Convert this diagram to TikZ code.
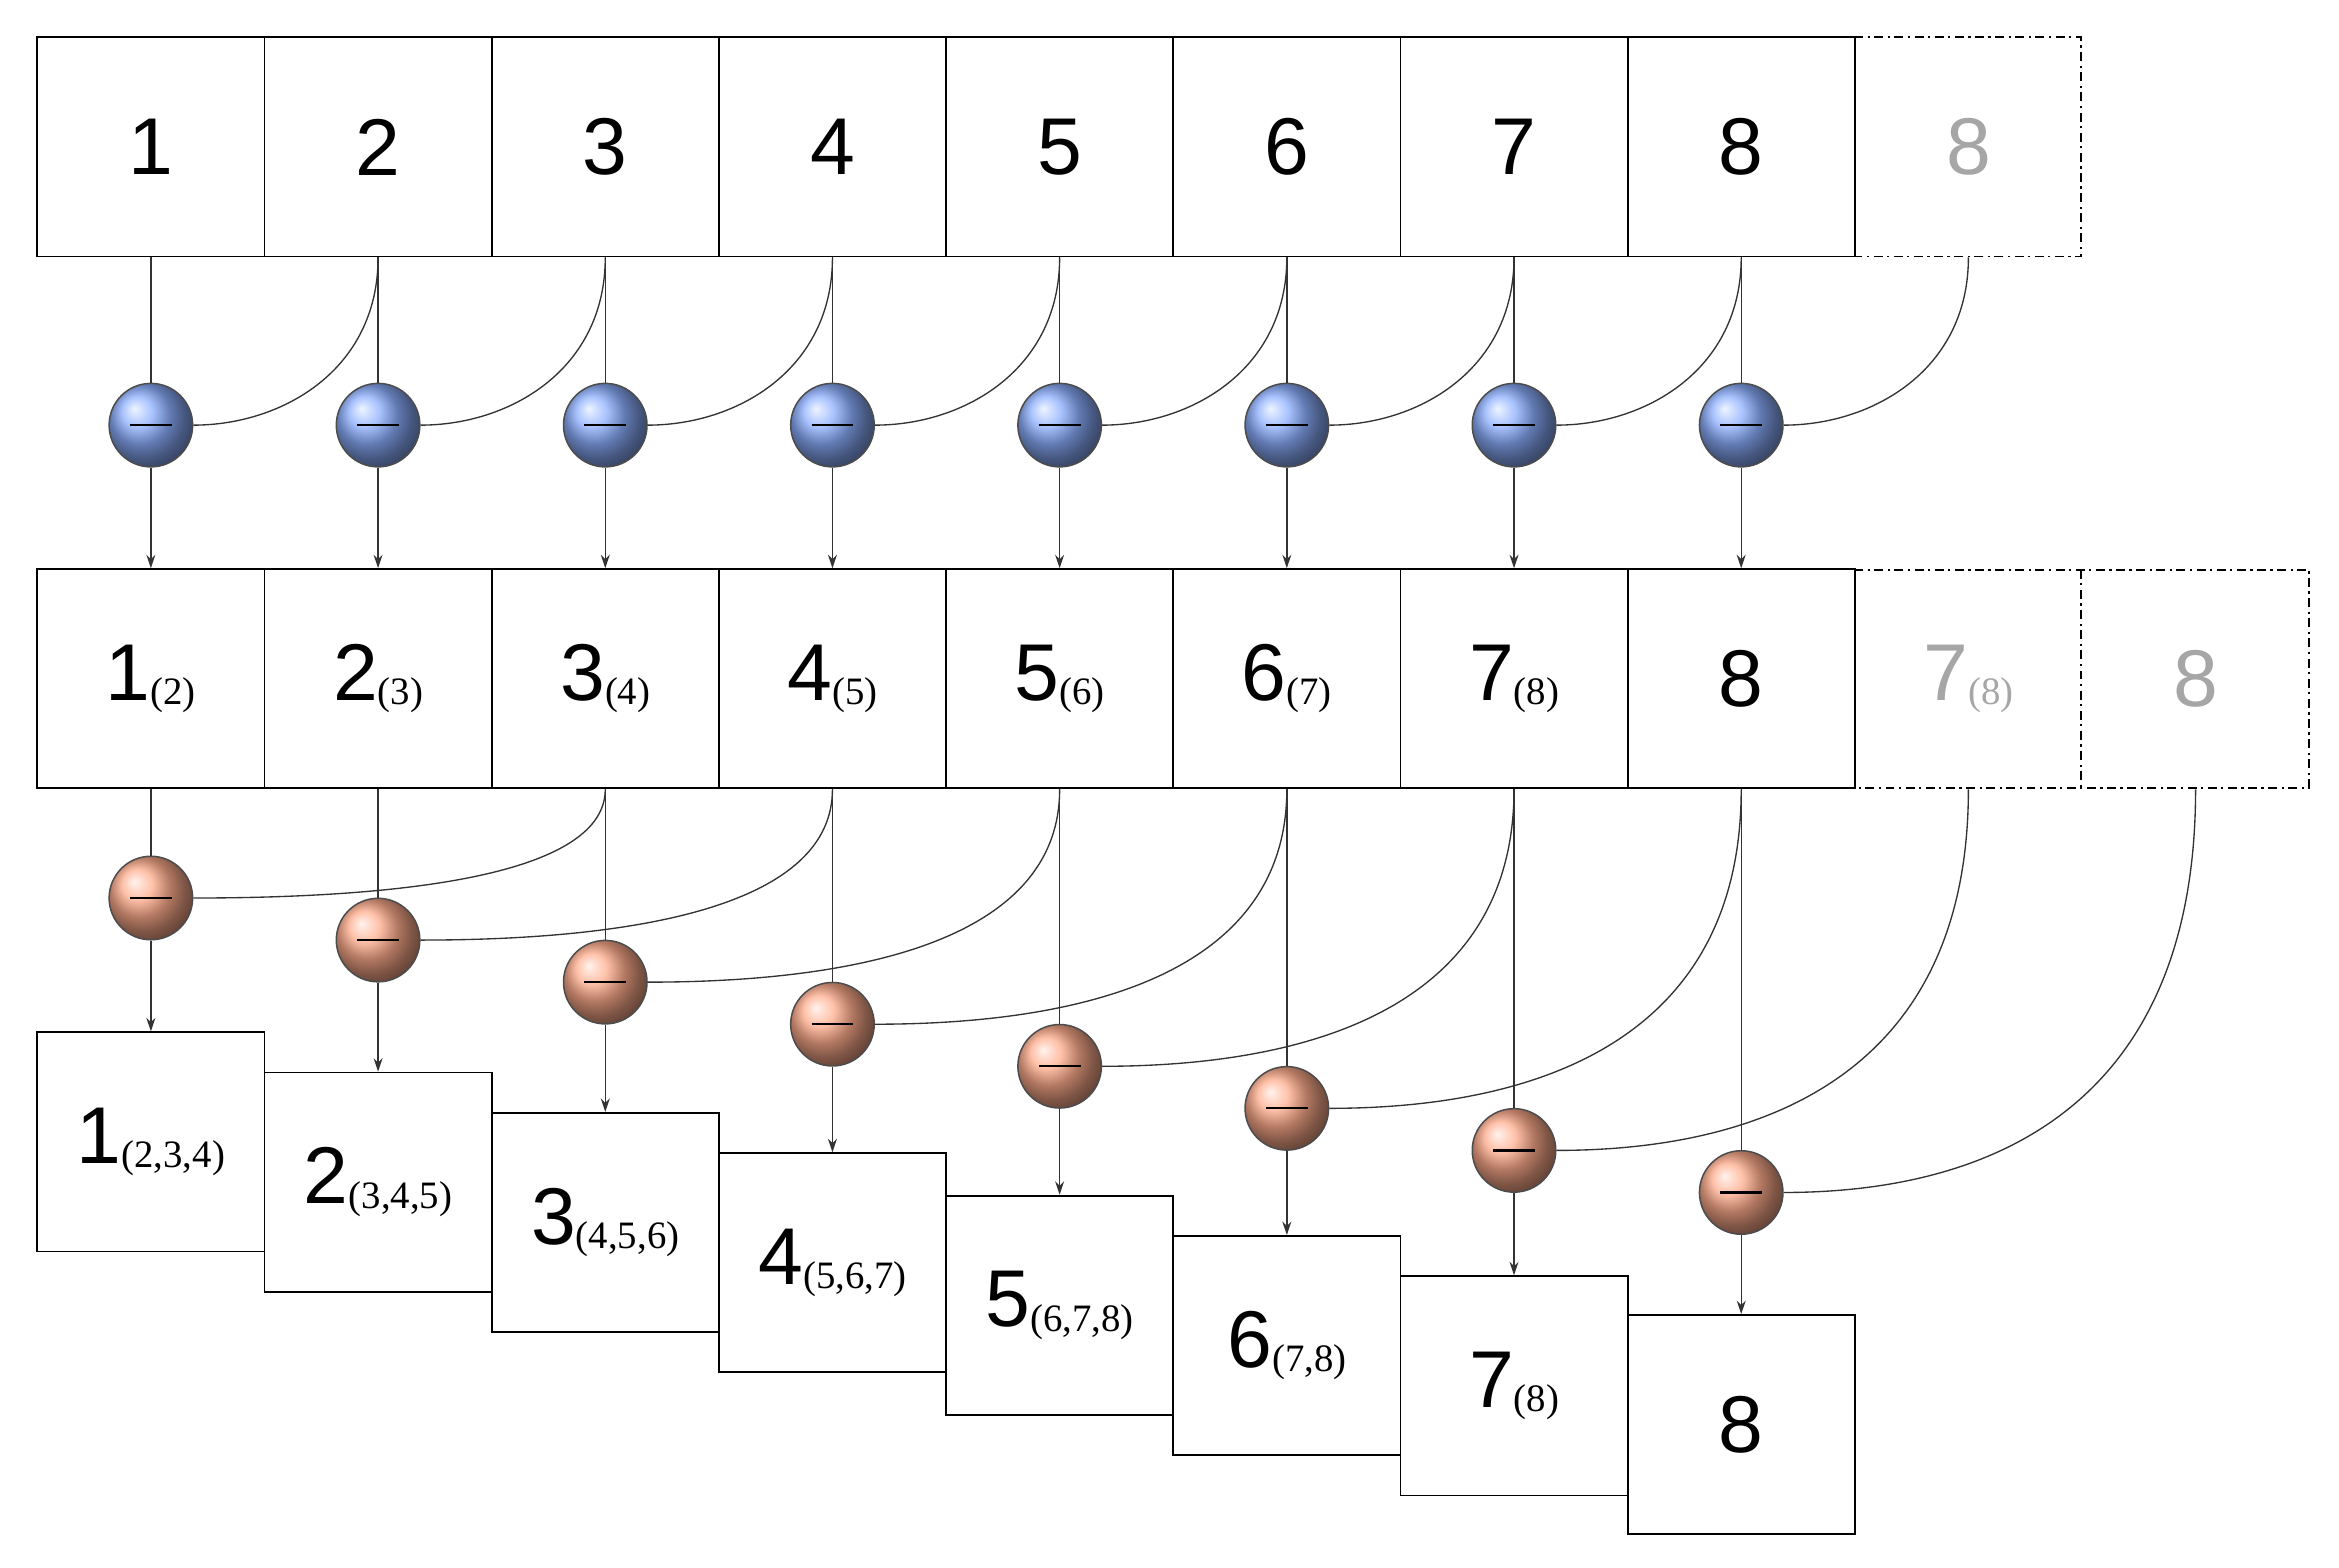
\documentclass[tikz,border=0pt]{standalone}
\usepackage{fontspec}
\setmainfont{Liberation Sans}
\newfontfamily\serf{Liberation Serif}
\usetikzlibrary{arrows.meta}
\begin{document}
\begin{tikzpicture}[x=1pt,y=-1pt,
  box/.style={draw,line width=1.2pt,minimum width=152.3pt,minimum height=147pt,inner sep=0pt,font=\fontsize{54}{60}\selectfont},
  gbox/.style={box,draw=none,text=black!35},
  ball/.style={circle,draw=black!70,line width=1pt,minimum size=56pt,inner sep=0pt},
  blueb/.style={ball,ball color=cyan!30!blue!45!white},
  redb/.style={ball,ball color=red!45!orange!45!white},
  conn/.style={line width=0.9pt,black!80},
  arr/.style={conn,-{Stealth[length=9pt,width=6pt]}},
  dd/.style={line width=1.2pt,dash pattern=on 6pt off 3pt on 1.5pt off 3pt}]
\useasboundingbox (0,0) rectangle (1568,1051);
\newcommand{\mysub}[1]{{\serf\fontsize{26}{30}\selectfont\raisebox{-3pt}{(#1)}}}
% top row
\foreach \i in {1,...,8}{
  \node[box] (t\i) at ({25+152.3*(\i-0.5)},98.5) {\i};
}
\node[gbox] (t9) at ({25+152.3*8.5},98.5) {8};
\draw[dd] (1243,25) -- (1395,25) -- (1395,172) -- (1243,172);
% middle row
\node[box] (m1) at ({25+152.3*0.5},455) {1\mysub{2}};
\node[box] (m2) at ({25+152.3*1.5},455) {2\mysub{3}};
\node[box] (m3) at ({25+152.3*2.5},455) {3\mysub{4}};
\node[box] (m4) at ({25+152.3*3.5},455) {4\mysub{5}};
\node[box] (m5) at ({25+152.3*4.5},455) {5\mysub{6}};
\node[box] (m6) at ({25+152.3*5.5},455) {6\mysub{7}};
\node[box] (m7) at ({25+152.3*6.5},455) {7\mysub{8}};
\node[box] (m8) at ({25+152.3*7.5},455) {8};
\node[gbox] (m9) at ({25+152.3*8.5},455) {7\mysub{8}};
\node[gbox] (m10) at ({25+152.3*9.5},455) {8};
\draw[dd] (1243,382) -- (1548,382) -- (1548,528) -- (1243,528);
\draw[dd] (1395,382) -- (1395,528);
% bottom boxes
\node[box] (b1) at ({25+152.3*0.5},765.5) {1\mysub{2,3,4}};
\node[box] (b2) at ({25+152.3*1.5},792.5) {2\mysub{3,4,5}};
\node[box] (b3) at ({25+152.3*2.5},819.5) {3\mysub{4,5,6}};
\node[box] (b4) at ({25+152.3*3.5},846.5) {4\mysub{5,6,7}};
\node[box] (b5) at ({25+152.3*4.5},875) {5\mysub{6,7,8}};
\node[box] (b6) at ({25+152.3*5.5},902) {6\mysub{7,8}};
\node[box] (b7) at ({25+152.3*6.5},929) {7\mysub{8}};
\node[box] (b8) at ({25+152.3*7.5},955) {8};
% circles
\foreach \i in {1,...,8}{
  \node[blueb] (u\i) at ({25+152.3*(\i-0.5)},285) {};
  \draw[line width=1.5pt] ([xshift=-14pt]u\i.center) -- ([xshift=14pt]u\i.center);
  \node[redb] (r\i) at ({25+152.3*(\i-0.5)},{602+28.2*(\i-1)}) {};
  \draw[line width=1.5pt] ([xshift=-14pt]r\i.center) -- ([xshift=14pt]r\i.center);
}
% connectors
\foreach \i [evaluate=\i as \j using int(\i+1), evaluate=\i as \k using int(\i+2)] in {1,...,8}{
  \draw[conn] (t\i.south) -- (u\i.north);
  \draw[arr] (u\i.south) -- (m\i.north);
  \draw[conn] (t\j.south) .. controls ([yshift=-75pt]t\j.south) and ([xshift=60pt]u\i.east) .. (u\i.east);
  \draw[conn] (m\i.south) -- (r\i.north);
  \draw[arr] (r\i.south) -- (b\i.north);
  \pgfmathsetmacro{\dy}{(602+28.2*(\i-1)-528)*0.75}
  \draw[conn] (m\k.south) .. controls ([yshift=-\dy pt]m\k.south) and ([xshift=150pt]r\i.east) .. (r\i.east);
}
\end{tikzpicture}
\end{document}
